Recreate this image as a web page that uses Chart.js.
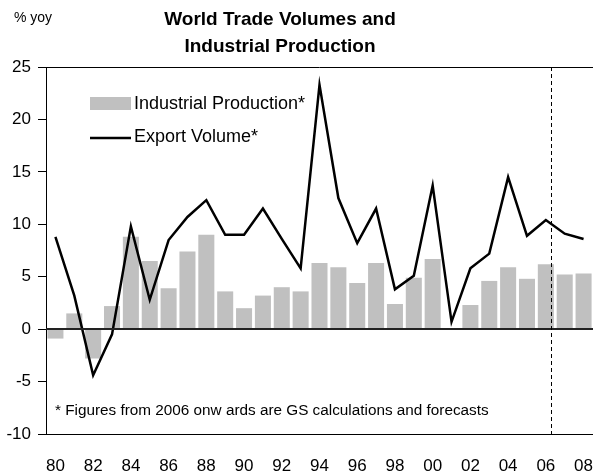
<!DOCTYPE html>
<html>
<head>
<meta charset="utf-8">
<script src="https://cdn.jsdelivr.net/npm/chart.js"></script>
<style>
  html, body { margin: 0; padding: 0; background: #fff; }
  #wrap { width: 593px; height: 472px; }
</style>
</head>
<body>
<div id="wrap"><canvas id="tradeChart" width="593" height="472"></canvas></div>
<script>
// years 1980 - 2008
var years = ['80','81','82','83','84','85','86','87','88','89','90','91','92','93','94',
             '95','96','97','98','99','00','01','02','03','04','05','06','07','08'];
// Industrial production, % yoy (bars)
var industrialProduction = [-0.9, 1.5, -2.8, 2.2, 8.8, 6.5, 3.9, 7.4, 9.0, 3.6, 2.0, 3.2, 4.0, 3.6, 6.3,
                            5.9, 4.4, 6.3, 2.4, 4.9, 6.7, 0.1, 2.3, 4.6, 5.9, 4.8, 6.2, 5.2, 5.3];
// Export volume, % yoy (line)
var exportVolume = [8.8, 3.2, -4.4, -0.5, 9.8, 2.8, 8.5, 10.7, 12.3, 9.0, 9.0, 11.5, 8.6, 5.8, 23.3,
                    12.5, 8.2, 11.5, 3.8, 5.1, 13.7, 0.7, 5.8, 7.2, 14.5, 8.9, 10.4, 9.1, 8.6];
var yTicks = [-10, -5, 0, 5, 10, 15, 20, 25];
var forecastFrom = '06';

var font = 'Liberation Sans, Arial, sans-serif';

// extra drawing: title, frame, zero line, forecast line, legend, footnote
var decorations = {
    id: 'decorations',
    afterDraw: function (chart) {
        var ctx = chart.ctx;
        var area = chart.chartArea;
        var x = chart.scales.x;
        var y = chart.scales.y;
        ctx.save();

        // top frame line
        ctx.strokeStyle = '#000';
        ctx.lineWidth = 1;
        ctx.beginPath();
        ctx.moveTo(area.left, area.top + 0.5);
        ctx.lineTo(area.right, area.top + 0.5);
        ctx.stroke();

        // zero line
        var y0 = Math.round(y.getPixelForValue(0));
        ctx.strokeStyle = '#222';
        ctx.lineWidth = 2;
        ctx.beginPath();
        ctx.moveTo(area.left, y0);
        ctx.lineTo(area.right, y0);
        ctx.stroke();

        // forecast divider
        var idx = years.indexOf(forecastFrom);
        var step = x.getPixelForValue(1) - x.getPixelForValue(0);
        var xd = Math.round(x.getPixelForValue(idx) + step * 0.27) + 0.5;
        ctx.strokeStyle = '#000';
        ctx.lineWidth = 1;
        ctx.setLineDash([4, 3]);
        ctx.beginPath();
        ctx.moveTo(xd, area.top);
        ctx.lineTo(xd, area.bottom);
        ctx.stroke();
        ctx.setLineDash([]);

        // titles
        ctx.fillStyle = '#000';
        ctx.textAlign = 'center';
        ctx.textBaseline = 'middle';
        ctx.font = 'bold 19px ' + font;
        ctx.fillText('World Trade Volumes and', 280, 20);
        ctx.fillText('Industrial Production', 280, 47);
        ctx.textAlign = 'left';
        ctx.font = '14px ' + font;
        ctx.fillText('% yoy', 14, 18);

        // legend
        ctx.fillStyle = '#c0c0c0';
        ctx.fillRect(90, 97, 41, 13);
        ctx.strokeStyle = '#000';
        ctx.lineWidth = 2.5;
        ctx.beginPath();
        ctx.moveTo(90, 138);
        ctx.lineTo(131, 138);
        ctx.stroke();
        ctx.fillStyle = '#000';
        ctx.font = '18px ' + font;
        ctx.fillText('Industrial Production*', 134, 104);
        ctx.fillText('Export Volume*', 134, 137);

        // footnote
        ctx.font = '15.3px ' + font;
        ctx.fillText('* Figures from 2006 onw ards are GS calculations and forecasts', 55, 411);

        ctx.restore();
    }
};

var ctx = document.getElementById('tradeChart').getContext('2d');
var tradeChart = new Chart(ctx, {
    data: {
        labels: years,
        datasets: [{
                type: 'line',
                label: 'Export Volume*',
                data: exportVolume,
                borderColor: '#000',
                backgroundColor: '#000',
                borderWidth: 2.5,
                pointRadius: 0,
                tension: 0,
                fill: false,
                order: 0
            },
            {
                type: 'bar',
                label: 'Industrial Production*',
                data: industrialProduction,
                backgroundColor: '#c0c0c0',
                borderWidth: 0,
                categoryPercentage: 1,
                barPercentage: 0.85,
                order: 1
            }
        ]
    },
    options: {
        responsive: false,
        animation: false,
        layout: { padding: { top: 67, left: 0, right: 0, bottom: 0 } },
        plugins: {
            legend: { display: false },
            title: { display: false },
            tooltip: { enabled: false }
        },
        scales: {
            x: {
                grid: { display: false, drawTicks: false },
                border: { color: '#000', width: 1 },
                ticks: {
                    color: '#000',
                    font: { family: font, size: 17 },
                    maxRotation: 0,
                    autoSkip: false,
                    padding: 22,
                    callback: function (value, index) {
                        return index % 2 === 0 ? years[index] : '';
                    }
                },
                // let the plot run to the right edge, last label may be clipped
                afterFit: function (scale) {
                    scale.height = 38;
                    scale.paddingRight = 0;
                    scale.paddingLeft = 0;
                }
            },
            y: {
                min: -10,
                max: 25,
                afterBuildTicks: function (scale) {
                    scale.ticks = yTicks.map(function (v) { return { value: v }; });
                },
                grid: { drawOnChartArea: false, drawTicks: true, tickLength: 8, color: '#000' },
                border: { color: '#000', width: 1 },
                ticks: {
                    color: '#000',
                    font: { family: font, size: 17 },
                    padding: 7
                },
                afterFit: function (scale) { scale.width = 46; }
            }
        }
    },
    plugins: [decorations]
});
</script>
</body>
</html>
